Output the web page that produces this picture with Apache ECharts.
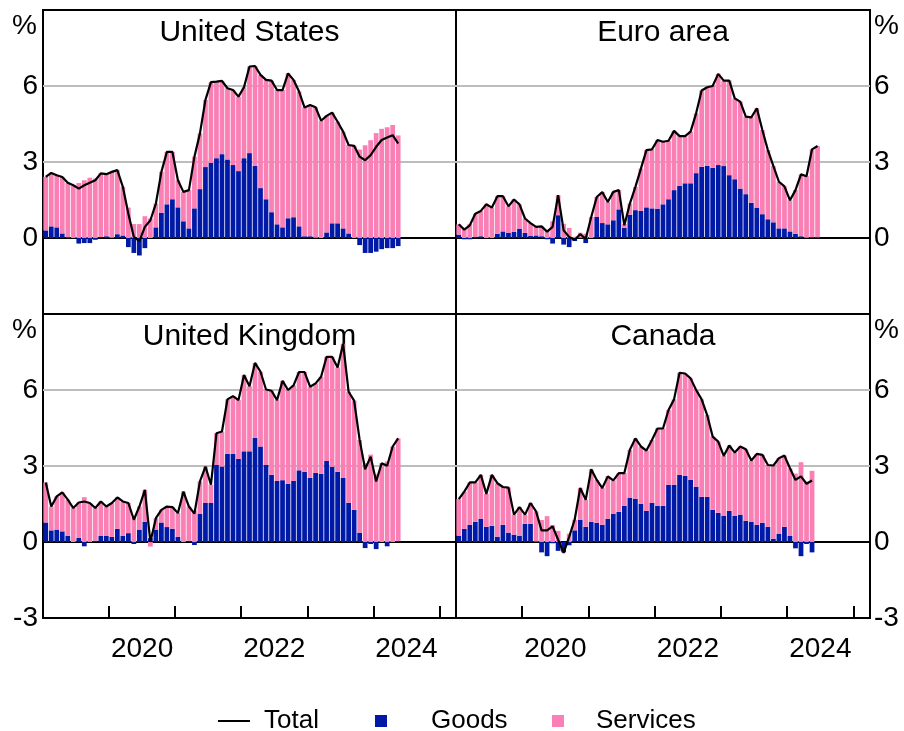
<!DOCTYPE html>
<html>
<head>
<meta charset="utf-8">
<script src="https://cdn.jsdelivr.net/npm/echarts@6.0.0/dist/echarts.min.js"></script>
<style>
html, body { margin: 0; padding: 0; background: #fff; }
#chart { width: 904px; height: 731px; }
</style>
</head>
<body>
<div id="chart"></div>
<script>
// monthly, Jan 2019 .. Mar 2025 on the axis
var months = [];
for (var y = 2019; y <= 2025; y++) {
    for (var m = 1; m <= 12; m++) {
        if (months.length < 75) months.push(y + '-' + (m < 10 ? '0' + m : m));
    }
}
var yearLabels = ['2020', '2022', '2024'];

// United States
var usTotal = [2.41,2.57,2.48,2.41,2.18,2.08,1.95,2.08,2.18,2.28,2.55,2.52,
    2.61,2.68,2.02,0.96,0.04,-0.12,0.44,0.70,1.36,2.61,3.40,3.40,
    2.28,1.82,1.89,3.21,4.13,5.45,6.15,6.17,6.20,5.91,5.84,5.58,
    5.95,6.77,6.79,6.44,6.24,6.21,5.84,5.84,6.50,6.24,5.78,5.15,
    5.25,5.16,4.63,4.82,4.95,4.59,4.20,3.67,3.64,3.21,3.07,3.27,
    3.60,3.87,3.97,4.06,3.73];
var usGoods = [0.30,0.46,0.42,0.18,0.03,0.00,-0.22,-0.20,-0.20,-0.07,0.04,0.07,
    0.01,0.15,0.10,-0.36,-0.59,-0.69,-0.40,0.00,0.42,0.99,1.33,1.53,
    1.21,0.66,0.38,1.17,1.93,2.80,2.96,3.15,3.31,3.10,2.88,2.64,
    3.15,3.35,2.85,1.97,1.53,1.02,0.54,0.42,0.78,0.82,0.46,0.07,
    0.07,0.01,0.00,0.22,0.58,0.58,0.38,0.18,0.00,-0.28,-0.59,-0.59,
    -0.54,-0.44,-0.40,-0.40,-0.32];
var usServices = [2.11,2.11,2.06,2.23,2.15,2.08,2.17,2.28,2.38,2.35,2.51,2.45,
    2.60,2.53,1.92,1.20,0.55,0.55,0.86,0.77,0.94,1.62,2.07,1.87,
    1.07,1.16,1.51,2.04,2.20,2.65,3.19,3.02,2.89,2.81,2.96,2.94,
    2.80,3.42,3.94,4.47,4.71,5.19,5.30,5.42,5.72,5.42,5.32,5.08,
    5.18,5.15,4.63,4.60,4.37,4.01,3.82,3.49,3.64,3.49,3.66,3.86,
    4.14,4.31,4.37,4.46,4.05];

// Euro area
var euTotal = [0.54,0.33,0.50,0.96,1.07,1.33,1.20,1.65,1.65,1.25,1.52,1.33,
    0.77,0.59,0.44,0.46,0.25,0.44,1.69,0.30,0.04,-0.07,0.15,-0.03,
    0.83,1.62,1.81,1.42,1.82,1.89,0.50,1.36,2.02,2.74,3.47,3.50,
    3.87,3.80,3.84,4.23,4.02,4.02,4.20,4.92,5.82,5.95,6.00,6.48,
    6.21,6.21,5.51,5.38,4.79,4.76,5.12,4.26,3.47,2.84,2.22,2.04,
    1.49,1.89,2.51,2.44,3.50,3.63];
var euGoods = [0.13,-0.05,-0.05,0.04,0.07,0.00,0.00,0.17,0.26,0.20,0.24,0.37,
    0.20,0.09,0.10,0.07,-0.05,-0.22,0.90,-0.26,-0.36,-0.12,0.01,-0.20,
    0.00,0.83,0.59,0.54,0.70,1.13,0.40,0.92,1.10,1.07,1.21,1.17,
    1.16,1.33,1.53,1.89,2.06,2.16,2.16,2.56,2.81,2.85,2.77,2.88,
    2.84,2.48,2.32,1.95,1.73,1.39,1.20,0.94,0.74,0.62,0.38,0.38,
    0.26,0.17,0.07,0.01,0.03,0.03];
var euServices = [0.41,0.38,0.55,0.92,1.00,1.33,1.20,1.48,1.39,1.05,1.28,0.96,
    0.57,0.50,0.34,0.39,0.30,0.66,0.79,0.56,0.40,0.05,0.20,0.17,
    0.83,0.79,1.22,0.88,1.12,0.76,0.15,0.44,0.92,1.67,2.26,2.33,
    2.71,2.47,2.31,2.34,1.96,1.86,2.04,2.36,3.01,3.10,3.23,3.60,
    3.37,3.73,3.19,3.43,3.06,3.37,3.92,3.32,2.73,2.22,1.84,1.66,
    1.23,1.72,2.44,2.43,3.47,3.60];

// United Kingdom
var ukTotal = [2.35,1.40,1.80,1.96,1.67,1.34,1.56,1.60,1.54,1.34,1.60,1.40,
    1.54,1.76,1.60,1.54,0.88,1.40,2.06,0.00,0.94,1.27,1.40,1.38,
    1.14,1.99,1.40,1.12,2.39,2.98,2.26,4.29,4.36,5.63,5.76,5.60,
    6.59,6.15,7.07,6.72,6.02,5.97,5.60,6.36,6.00,6.18,6.71,6.71,
    6.13,6.26,6.52,7.31,7.31,6.89,7.83,5.93,5.58,4.03,2.87,3.37,
    2.39,3.11,3.01,3.77,4.09];
var ukGoods = [0.77,0.46,0.49,0.42,0.25,0.00,0.17,-0.17,0.00,0.05,0.25,0.25,
    0.20,0.52,0.25,0.35,-0.08,0.49,0.80,0.15,0.49,0.77,0.59,0.52,
    0.20,0.00,0.05,-0.12,1.12,1.54,1.54,3.04,2.98,3.48,3.48,3.28,
    3.58,3.58,4.11,3.77,3.04,2.65,2.41,2.44,2.30,2.41,2.83,2.77,
    2.53,2.73,2.69,3.20,2.97,2.77,2.53,1.55,1.27,0.37,-0.24,-0.08,
    -0.28,0.00,-0.17,0.00,0.05];
var ukServices = [1.58,0.94,1.31,1.54,1.42,1.34,1.39,1.77,1.54,1.29,1.35,1.15,
    1.34,1.24,1.35,1.19,0.96,0.91,1.26,-0.18,0.45,0.50,0.81,0.86,
    0.94,1.99,1.35,1.24,1.27,1.44,0.72,1.25,1.38,2.15,2.28,2.32,
    3.01,2.57,2.96,2.95,2.98,3.32,3.19,3.92,3.70,3.77,3.88,3.94,
    3.60,3.53,3.83,4.11,4.34,4.12,5.30,4.38,4.31,3.66,3.11,3.45,
    2.67,3.11,3.18,3.77,4.04];

// Canada
var caTotal = [1.69,1.99,2.35,2.35,2.65,1.90,2.65,2.32,2.17,2.15,1.08,1.38,
    1.08,1.54,1.21,0.46,0.46,0.62,0.09,-0.43,0.20,0.88,2.13,1.67,
    2.87,2.45,2.13,2.59,2.43,2.72,2.72,3.64,4.09,3.77,3.61,4.03,
    4.48,4.48,5.21,5.63,6.68,6.65,6.46,6.00,5.63,5.01,4.16,3.96,
    3.40,3.81,3.53,3.77,3.66,3.22,3.48,3.44,3.04,3.02,3.31,3.41,
    2.91,2.45,2.59,2.30,2.43];
var caGoods = [0.25,0.52,0.68,0.80,0.92,0.60,0.64,0.21,0.68,0.37,0.29,0.25,
    0.72,0.72,0.02,-0.41,-0.56,-0.05,-0.35,-0.40,-0.13,0.46,0.88,0.60,
    0.80,0.76,0.68,0.92,1.12,1.19,1.43,1.75,1.71,1.51,1.23,1.55,
    1.43,1.43,2.26,2.26,2.65,2.61,2.45,2.18,1.78,1.78,1.27,1.15,
    1.04,1.23,1.04,1.08,0.84,0.80,0.68,0.76,0.60,0.13,0.33,0.60,
    0.25,-0.25,-0.56,-0.08,-0.41];
var caServices = [1.44,1.47,1.67,1.55,1.73,1.30,2.01,2.11,1.49,1.78,0.79,1.13,
    0.36,0.82,1.19,0.87,1.02,0.67,0.44,-0.03,0.33,0.42,1.25,1.07,
    2.07,1.69,1.45,1.67,1.31,1.53,1.29,1.89,2.38,2.26,2.38,2.48,
    3.05,3.05,2.95,3.37,4.03,4.04,4.01,3.82,3.85,3.23,2.89,2.81,
    2.36,2.58,2.49,2.69,2.82,2.42,2.80,2.68,2.44,2.89,2.98,2.81,
    2.66,2.70,3.15,2.38,2.81];

var FONT = '"Liberation Sans", Arial, sans-serif';
var GOODS = '#0019A6';
var SERVICES = '#F97FB5';

var panels = [
    { title: 'United States',  goods: usGoods, services: usServices, total: usTotal, side: 'left',  bottom: false },
    { title: 'Euro area',      goods: euGoods, services: euServices, total: euTotal, side: 'right', bottom: false },
    { title: 'United Kingdom', goods: ukGoods, services: ukServices, total: ukTotal, side: 'left',  bottom: true },
    { title: 'Canada',         goods: caGoods, services: caServices, total: caTotal, side: 'right', bottom: true }
];
var boxes = [
    { left: 43,  top: 10,  width: 413, height: 304 },
    { left: 456, top: 10,  width: 414, height: 304 },
    { left: 43,  top: 314, width: 413, height: 304 },
    { left: 456, top: 314, width: 414, height: 304 }
];

var grid = [], xAxis = [], yAxis = [], series = [], graphic = [];

panels.forEach(function (p, k) {
    var b = boxes[k];
    grid.push({
        left: b.left, top: b.top, width: b.width, height: b.height,
        show: true, borderColor: '#000', borderWidth: 2,
        containLabel: false, outerBoundsMode: 'none'
    });
    xAxis.push({
        type: 'category',
        gridIndex: k,
        data: months,
        boundaryGap: true,
        axisLine: { show: false, onZero: false },
        axisTick: {
            show: p.bottom,
            inside: true,
            length: 12,
            interval: function (i) { return i % 12 === 0; },
            lineStyle: { color: '#000', width: 2 }
        },
        axisLabel: {
            show: p.bottom,
            interval: function (i, v) { return v.slice(5) === '07' && yearLabels.indexOf(v.slice(0, 4)) >= 0; },
            formatter: function (v) { return v.slice(0, 4); },
            color: '#000',
            fontFamily: FONT,
            fontSize: 28,
            margin: 17,
            padding: [0, 5.5, 0, 0]
        },
        splitLine: { show: false }
    });
    yAxis.push({
        type: 'value',
        gridIndex: k,
        min: -3, max: 9, interval: 3,
        position: p.side,
        axisLine: { show: false },
        axisTick: { show: false },
        axisLabel: {
            color: '#000',
            fontFamily: FONT,
            fontSize: 28,
            margin: p.side === 'left' ? 5 : 4,
            formatter: function (v) {
                if (v >= 9) return '';
                if (!p.bottom && v < 0) return '';
                return String(v);
            }
        },
        splitLine: {
            show: true,
            lineStyle: { color: ['#000', '#000', '#BDBDBD', '#BDBDBD', '#000'], width: 2 }
        }
    });
    series.push({
        name: 'Goods', type: 'bar', xAxisIndex: k, yAxisIndex: k,
        stack: 'p' + k, data: p.goods, barCategoryGap: '14%',
        itemStyle: { color: GOODS }
    });
    series.push({
        name: 'Services', type: 'bar', xAxisIndex: k, yAxisIndex: k,
        stack: 'p' + k, data: p.services, barCategoryGap: '14%',
        itemStyle: { color: SERVICES }
    });
    series.push({
        name: 'Total', type: 'line', xAxisIndex: k, yAxisIndex: k,
        data: p.total, symbol: 'none', showSymbol: false, z: 5,
        lineStyle: { color: '#000', width: 2.2 },
        itemStyle: { color: '#000' }
    });

    graphic.push({
        type: 'text',
        x: b.left + b.width / 2, y: b.top + 22.5,
        style: {
            text: p.title, fill: '#000', font: '30px ' + FONT,
            align: 'center', verticalAlign: 'middle',
            textAlign: 'center', textVerticalAlign: 'middle'
        }
    });
    graphic.push({
        type: 'text',
        x: p.side === 'left' ? 24.5 : 886.5, y: b.top + 16.5,
        style: {
            text: '%', fill: '#000', font: '28px ' + FONT,
            align: 'center', verticalAlign: 'middle',
            textAlign: 'center', textVerticalAlign: 'middle'
        }
    });
});

function legendAt(name, left, w, h, gap, icon) {
    return {
        data: [{ name: name, icon: icon }],
        left: left, top: 708,
        padding: 0,
        itemWidth: w, itemHeight: h,
        textStyle: { color: '#000', fontFamily: FONT, fontSize: 26, padding: [0, 0, 0, gap] },
        selectedMode: false
    };
}

var chart = echarts.init(document.getElementById('chart'), null, { renderer: 'canvas' });
chart.setOption({
    animation: false,
    backgroundColor: '#fff',
    grid: grid,
    xAxis: xAxis,
    yAxis: yAxis,
    series: series,
    graphic: graphic,
    legend: [
        legendAt('Total', 218, 32, 2, 9, 'rect'),
        legendAt('Goods', 375, 12, 12, 39, 'rect'),
        legendAt('Services', 552, 12, 12, 27, 'rect')
    ]
});
</script>
</body>
</html>
